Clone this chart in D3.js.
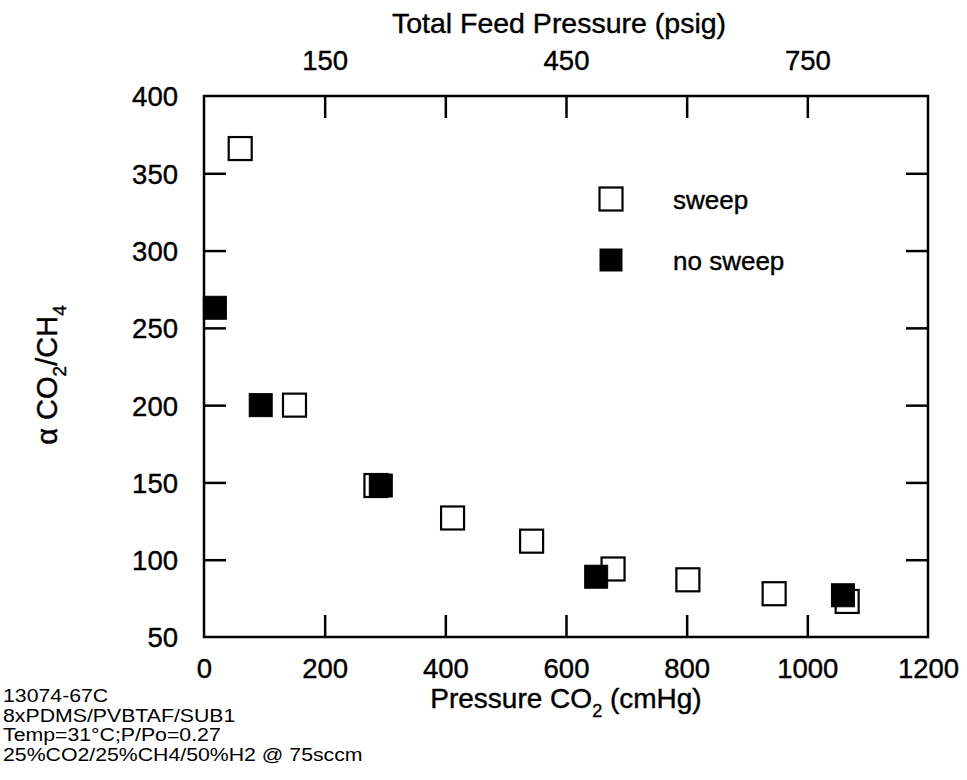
<!DOCTYPE html>
<html>
<head>
<meta charset="utf-8">
<script src="https://cdn.jsdelivr.net/npm/d3@7"></script>
<style>
  body { margin: 0; background: #fff; }
  svg text { font-family: "Liberation Sans", Arial, sans-serif; fill: #000; stroke: #000; stroke-width: 0.4px; }
  svg text.note { stroke: none; }
</style>
</head>
<body>
<div id="chart"></div>
<script>
// sweep (open squares): CO2 pressure (cmHg), alpha CO2/CH4
var sweepX = [60, 150, 285, 412, 543, 678, 802, 945, 1066];
var sweepY = [366, 200, 148, 127, 112, 94, 87, 78, 73];
// no sweep (filled squares)
var noSweepX = [18, 94, 293, 650, 1059];
var noSweepY = [263, 200, 148, 89, 77];

var bottomTicks = [0, 200, 400, 600, 800, 1000, 1200];
var leftTicks = [50, 100, 150, 200, 250, 300, 350, 400];
var topTicks = [150, 300, 450, 600, 750];
var topLabels = [150, 450, 750];
var notes = ["13074-67C", "8xPDMS/PVBTAF/SUB1", "Temp=31\u00b0C;P/Po=0.27", "25%CO2/25%CH4/50%H2 @ 75sccm"];

var W = 967, H = 780;
var margin = {top: 96, right: 39, bottom: 143, left: 204},
    width = W - margin.left - margin.right,
    height = H - margin.top - margin.bottom;

var svg = d3.select("#chart").append("svg")
    .attr("width", W)
    .attr("height", H);

var g = svg.append("g")
    .attr("transform", "translate(" + margin.left + "," + margin.top + ")");

var x = d3.scaleLinear().domain([0, 1200]).range([0, width]);
var y = d3.scaleLinear().domain([50, 400]).range([height, 0]);
// psig on top: 150 psig sits at 200 cmHg
var xTop = d3.scaleLinear().domain([0, 900]).range([0, width]);

var tickLen = 22;

// frame
g.append("rect")
    .attr("width", width)
    .attr("height", height)
    .attr("fill", "none")
    .attr("stroke", "#000")
    .attr("stroke-width", 2.5);

// axes, ticks point inward
var xAxis = d3.axisBottom(x).tickValues(bottomTicks).tickSizeInner(-tickLen).tickSizeOuter(0)
    .tickPadding(21).tickFormat(d3.format("d"));
var gx = g.append("g").attr("transform", "translate(0," + height + ")").call(xAxis);

var yAxis = d3.axisLeft(y).tickValues(leftTicks).tickSizeInner(-tickLen).tickSizeOuter(0).tickPadding(26);
var gy = g.append("g").call(yAxis);

var yAxisR = d3.axisRight(y).tickValues(leftTicks).tickSizeInner(-tickLen).tickSizeOuter(0).tickFormat("");
var gyr = g.append("g").attr("transform", "translate(" + width + ",0)").call(yAxisR);

var xAxisTop = d3.axisTop(xTop).tickValues(topTicks).tickSizeInner(-tickLen).tickSizeOuter(0).tickPadding(26)
    .tickFormat(function(d) { return topLabels.indexOf(d) >= 0 ? d : ""; });
var gxt = g.append("g").call(xAxisTop);

[gx, gy, gyr, gxt].forEach(function(a) {
  a.select(".domain").remove();
  a.selectAll(".tick line").attr("stroke", "#000").attr("stroke-width", 2.5);
  a.selectAll(".tick text").style("font-size", "27.5px").attr("fill", "#000");
});
// drop tick lines that would sit on the frame
gx.selectAll(".tick").filter(function(d) { return d === 0 || d === 1200; }).select("line").remove();
gy.selectAll(".tick").filter(function(d) { return d === 50 || d === 400; }).select("line").remove();
gyr.selectAll(".tick").filter(function(d) { return d === 50 || d === 400; }).remove();
gy.selectAll(".tick text").attr("dy", "0.36em");

// axis titles
var bt = g.append("text")
    .attr("x", width / 2)
    .attr("y", height + 71)
    .attr("text-anchor", "middle")
    .style("font-size", "28px");
bt.append("tspan").text("Pressure CO");
bt.append("tspan").attr("dy", 9).style("font-size", "18px").text("2");
bt.append("tspan").attr("dy", -9).text(" (cmHg)");

g.append("text")
    .attr("x", width / 2 - 7)
    .attr("y", -63)
    .attr("text-anchor", "middle")
    .style("font-size", "28.5px")
    .text("Total Feed Pressure (psig)");

var yt = g.append("text")
    .attr("transform", "translate(-147," + 279 + ") rotate(-90)")
    .attr("text-anchor", "middle")
    .style("font-size", "29px");
yt.append("tspan").text("\u03b1 CO");
yt.append("tspan").attr("dy", 9).style("font-size", "19px").text("2");
yt.append("tspan").attr("dy", -9).text("/CH");
yt.append("tspan").attr("dy", 9).style("font-size", "19px").text("4");

// points
var s = 23;
var sweep = sweepX.map(function(v, i) { return {x: v, y: sweepY[i]}; });
var noSweep = noSweepX.map(function(v, i) { return {x: v, y: noSweepY[i]}; });

g.selectAll(".sweep")
    .data(sweep)
    .enter()
    .append("rect")
    .attr("class", "sweep")
    .attr("x", function(d) { return x(d.x) - s / 2; })
    .attr("y", function(d) { return y(d.y) - s / 2; })
    .attr("width", s)
    .attr("height", s)
    .attr("fill", "#fff")
    .attr("stroke", "#000")
    .attr("stroke-width", 2.2);

g.selectAll(".nosweep")
    .data(noSweep)
    .enter()
    .append("rect")
    .attr("class", "nosweep")
    .attr("x", function(d) { return x(d.x) - s / 2; })
    .attr("y", function(d) { return y(d.y) - s / 2; })
    .attr("width", s)
    .attr("height", s)
    .attr("fill", "#000")
    .attr("stroke", "#000")
    .attr("stroke-width", 1);

// legend
var leg = g.append("g").attr("transform", "translate(" + (611 - margin.left) + "," + (199 - margin.top) + ")");
leg.append("rect").attr("x", -s / 2).attr("y", -s / 2).attr("width", s).attr("height", s)
    .attr("fill", "#fff").attr("stroke", "#000").attr("stroke-width", 2.2);
leg.append("text").attr("x", 62).attr("y", 10).style("font-size", "26px").text("sweep");
leg.append("rect").attr("x", -s / 2).attr("y", 61 - s / 2).attr("width", s).attr("height", s)
    .attr("fill", "#000");
leg.append("text").attr("x", 62).attr("y", 71).style("font-size", "26px").text("no sweep");

// notes (slightly stretched, like the scanned original)
svg.append("g")
    .attr("transform", "translate(3,0) scale(1.12,1)")
    .selectAll(".note")
    .data(notes)
    .enter()
    .append("text")
    .attr("class", "note")
    .attr("x", 0)
    .attr("y", function(d, i) { return 702 + i * 19.6; })
    .style("font-size", "19px")
    .text(function(d) { return d; });
</script>
</body>
</html>
